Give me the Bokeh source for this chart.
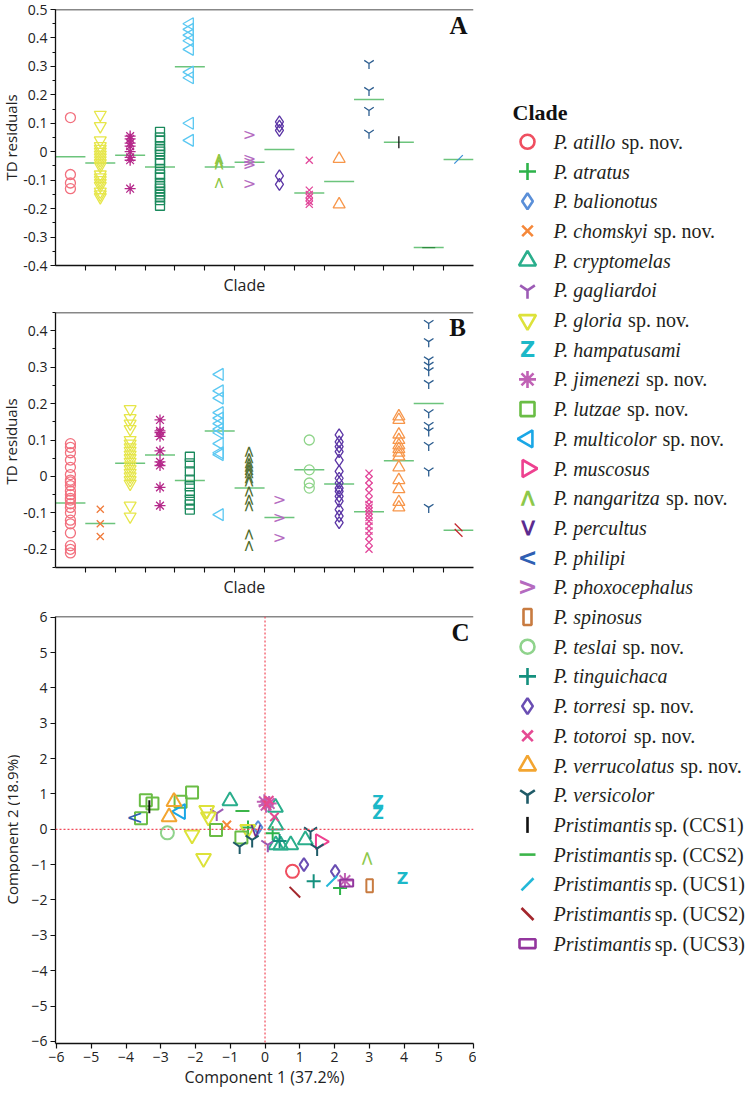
import math
from bokeh.plotting import figure
from bokeh.layouts import row, column
from bokeh.models import (Range1d, Span, Label, Title, SingleIntervalTicker, FixedTicker,
                          NumeralTickFormatter)
from bokeh.core.properties import value
from bokeh.embed import file_html
from bokeh.resources import INLINE

# ---------------- Panel A : TD residuals ----------------
a_categories = ["P. atillo", "P. gloria", "P. jimenezi", "P. lutzae", "P. multicolor",
                "P. nangaritza", "P. phoxocephalus", "P. torresi", "P. totoroi",
                "P. verrucolatus", "P. versicolor", "Pristimantis sp. (CCS1)",
                "Pristimantis sp. (CCS2)", "Pristimantis sp. (UCS1)"]
a_means = [-0.018, -0.040, -0.012, -0.054, 0.299, -0.054, -0.037, 0.008,
           -0.145, -0.105, 0.184, 0.033, -0.337, -0.027]
a_atillo = [0.12, -0.08, -0.11, -0.13]
a_gloria = [0.13, 0.09, 0.04, 0.02, 0.01, 0.0, -0.01, -0.02, -0.03, -0.04, -0.05,
            -0.08, -0.09, -0.10, -0.11, -0.12, -0.14, -0.15, -0.16]
a_jimenezi = [0.055, 0.045, 0.03, 0.02, 0.0, -0.02, -0.03, -0.13]
a_lutzae = [0.07, 0.05, 0.04, 0.02, 0.01, 0.0, -0.01, -0.03, -0.04, -0.06, -0.08,
            -0.09, -0.11, -0.12, -0.13, -0.14, -0.15, -0.16, -0.17, -0.19]
a_multicolor = [0.45, 0.43, 0.41, 0.39, 0.36, 0.28, 0.26, 0.10, 0.04]
a_nangaritza = [-0.025, -0.035, -0.045, -0.11]
a_phoxocephalus = [0.06, -0.025, -0.035, -0.045, -0.11]
a_torresi = [0.105, 0.09, 0.075, -0.085, -0.115]
a_totoroi = [-0.03, -0.135, -0.15, -0.16, -0.175, -0.185]
a_verrucolatus = [-0.025, -0.185]
a_versicolor = [0.31, 0.215, 0.145, 0.065]
a_ccs1 = [0.033]
a_ccs2 = [-0.337]
a_ucs1 = [-0.027]
a_values = [a_atillo, a_gloria, a_jimenezi, a_lutzae, a_multicolor, a_nangaritza,
            a_phoxocephalus, a_torresi, a_totoroi, a_verrucolatus, a_versicolor,
            a_ccs1, a_ccs2, a_ucs1]

# ---------------- Panel B : TD residuals ----------------
b_categories = ["P. atillo", "P. chomskyi", "P. gloria", "P. jimenezi", "P. lutzae",
                "P. multicolor", "P. nangaritza", "P. phoxocephalus", "P. teslai",
                "P. torresi", "P. totoroi", "P. verrucolatus", "P. versicolor",
                "Pristimantis sp. (UCS2)"]
b_means = [-0.073, -0.129, 0.036, 0.059, -0.011, 0.125, -0.032, -0.113, 0.018,
           -0.021, -0.097, 0.043, 0.200, -0.148]
b_atillo = [0.09, 0.08, 0.065, 0.045, 0.025, 0.005, -0.01, -0.015, -0.025, -0.04, -0.05,
            -0.06, -0.065, -0.075, -0.085, -0.10, -0.12, -0.13, -0.155, -0.19, -0.20, -0.21]
b_chomskyi = [-0.09, -0.13, -0.165]
b_gloria = [0.185, 0.16, 0.145, 0.13, 0.10, 0.09, 0.08, 0.07, 0.06, 0.05, 0.04, 0.03,
            0.02, 0.01, 0.0, -0.01, -0.02, -0.08, -0.11]
b_jimenezi = [0.155, 0.125, 0.12, 0.11, 0.07, 0.04, 0.03, -0.03, -0.08]
b_lutzae = [0.054, 0.036, 0.014, -0.009, -0.027, -0.045, -0.064, -0.077, -0.091]
b_multicolor = [0.28, 0.235, 0.215, 0.175, 0.16, 0.145, 0.13, 0.12, 0.09, 0.065, 0.06, -0.105]
b_nangaritza = [0.068, 0.05, 0.036, 0.027, 0.018, 0.009, -0.005, -0.014, -0.041,
                -0.064, -0.082, -0.159, -0.191]
b_phoxocephalus = [-0.064, -0.113, -0.168]
b_teslai = [0.10, 0.018, -0.018, -0.032]
b_torresi = [0.114, 0.095, 0.082, 0.068, 0.045, 0.014, -0.005, -0.018, -0.032, -0.041,
             -0.055, -0.068, -0.091, -0.109, -0.127]
b_totoroi = [0.009, -0.009, -0.027, -0.045, -0.064, -0.077, -0.086, -0.095, -0.104,
             -0.113, -0.123, -0.136, -0.15, -0.163, -0.181, -0.2]
b_verrucolatus = [0.165, 0.155, 0.115, 0.10, 0.085, 0.075, 0.065, 0.055, 0.025, -0.01,
                  -0.035, -0.07, -0.085]
b_versicolor = [0.42, 0.37, 0.32, 0.305, 0.29, 0.255, 0.175, 0.14, 0.125, 0.085, 0.015, -0.085]
b_ucs2 = [-0.14, -0.155]
b_values = [b_atillo, b_chomskyi, b_gloria, b_jimenezi, b_lutzae, b_multicolor,
            b_nangaritza, b_phoxocephalus, b_teslai, b_torresi, b_totoroi,
            b_verrucolatus, b_versicolor, b_ucs2]

# ---------------- Panel C : PCA ----------------
c_clade = ["P. atillo",
           "P. atratus", "P. atratus", "P. atratus",
           "P. balionotus",
           "P. chomskyi",
           "P. cryptomelas", "P. cryptomelas", "P. cryptomelas", "P. cryptomelas",
           "P. cryptomelas", "P. cryptomelas", "P. cryptomelas",
           "P. gagliardoi", "P. gagliardoi",
           "P. gloria", "P. gloria", "P. gloria", "P. gloria", "P. gloria",
           "P. hampatusami", "P. hampatusami", "P. hampatusami",
           "P. jimenezi", "P. jimenezi", "P. jimenezi", "P. jimenezi",
           "P. lutzae", "P. lutzae", "P. lutzae", "P. lutzae", "P. lutzae", "P. lutzae", "P. lutzae",
           "P. multicolor",
           "P. muscosus",
           "P. nangaritza",
           "P. percultus",
           "P. philipi",
           "P. spinosus",
           "P. teslai",
           "P. tinguichaca", "P. tinguichaca",
           "P. torresi", "P. torresi",
           "P. totoroi", "P. totoroi", "P. totoroi",
           "P. verrucolatus", "P. verrucolatus",
           "P. versicolor", "P. versicolor", "P. versicolor", "P. versicolor",
           "Pristimantis sp. (CCS1)",
           "Pristimantis sp. (CCS2)",
           "Pristimantis sp. (UCS1)",
           "Pristimantis sp. (UCS2)",
           "Pristimantis sp. (UCS3)"]
c_pc1 = [0.79,
         -0.49, 0.22, 2.16,
         -0.20,
         -1.10,
         -1.01, 0.30, 0.31, 0.31, 0.74, 1.16, 0.45,
         -1.39, 0.08,
         -1.68, -1.63, -2.10, -1.77, -0.50,
         3.25, 3.25, 3.96,
         -0.02, 0.12, 0.03, 2.30,
         -3.43, -3.24, -3.57, -2.10, -2.43, -1.41, -0.68,
         -2.43,
         1.59,
         2.95,
         -0.30,
         -3.75,
         3.01,
         -2.81,
         1.40, 0.42,
         1.12, 2.02,
         0.12, 0.27, 0.05,
         -2.62, -2.76,
         -0.73, -0.37, 1.31, 1.50,
         -3.33,
         -0.65,
         1.92,
         0.86,
         2.35]
c_pc2 = [-1.19,
         0.05, -0.11, -1.66,
         0.05,
         0.12,
         0.80, 0.62, 0.12, -0.44, -0.44, -0.30, -0.45,
         0.45, -0.44,
         0.54, 0.35, -0.16, -0.82, 0.00,
         0.78, 0.45, -1.38,
         0.78, 0.73, 0.68, -1.45,
         0.82, 0.73, 0.31, 1.04, 0.78, -0.02, -0.23,
         0.50,
         -0.35,
         -0.82,
         -0.05,
         0.35,
         -1.60,
         -0.10,
         -1.47, -0.33,
         -1.00, -1.19,
         0.82, 0.35, 0.70,
         0.78, 0.35,
         -0.49, -0.30, -0.07, -0.54,
         0.64,
         0.52,
         -1.47,
         -1.78,
         -1.52]

# ---------------- Legend ----------------
legend_keys = ["P. atillo", "P. atratus", "P. balionotus", "P. chomskyi", "P. cryptomelas",
               "P. gagliardoi", "P. gloria", "P. hampatusami", "P. jimenezi", "P. lutzae",
               "P. multicolor", "P. muscosus", "P. nangaritza", "P. percultus", "P. philipi",
               "P. phoxocephalus", "P. spinosus", "P. teslai", "P. tinguichaca", "P. torresi",
               "P. totoroi", "P. verrucolatus", "P. versicolor", "Pristimantis sp. (CCS1)",
               "Pristimantis sp. (CCS2)", "Pristimantis sp. (UCS1)", "Pristimantis sp. (UCS2)",
               "Pristimantis sp. (UCS3)"]
legend_italic = ["P. atillo", "P. atratus", "P. balionotus", "P. chomskyi", "P. cryptomelas",
                 "P. gagliardoi", "P. gloria", "P. hampatusami", "P. jimenezi", "P. lutzae",
                 "P. multicolor", "P. muscosus", "P. nangaritza", "P. percultus", "P. philipi",
                 "P. phoxocephalus", "P. spinosus", "P. teslai", "P. tinguichaca", "P. torresi",
                 "P. totoroi", "P. verrucolatus", "P. versicolor", "Pristimantis",
                 "Pristimantis", "Pristimantis", "Pristimantis", "Pristimantis"]
legend_regular = ["sp. nov.", "", "", "sp. nov.", "", "", "sp. nov.", "", "sp. nov.",
                  "sp. nov.", "sp. nov.", "", "sp. nov.", "", "", "", "", "sp. nov.", "",
                  "sp. nov.", "sp. nov.", "sp. nov.", "", "sp. (CCS1)", "sp. (CCS2)",
                  "sp. (UCS1)", "sp. (UCS2)", "sp. (UCS3)"]

# ---------------- styles ----------------
C_STYLE = {
    "P. atillo": ("circle", "#ef4f60"), "P. atratus": ("cross", "#2db34a"),
    "P. balionotus": ("diamond", "#5a8fd8"), "P. chomskyi": ("x", "#f5883a"),
    "P. cryptomelas": ("triangle", "#2aae8c"), "P. gagliardoi": ("y", "#9c5bb5"),
    "P. gloria": ("inverted_triangle", "#dde23a"), "P. hampatusami": ("zed", "#1cb8c8"),
    "P. jimenezi": ("asterisk", "#c062b5"), "P. lutzae": ("square", "#6abd45"),
    "P. multicolor": ("tri_left", "#1aa7e6"), "P. muscosus": ("tri_right", "#ee4190"),
    "P. nangaritza": ("chev_up", "#8dc84a"), "P. percultus": ("chev_down", "#5b2b8f"),
    "P. philipi": ("chev_left", "#2f5fb3"), "P. phoxocephalus": ("chev_right", "#b46bbf"),
    "P. spinosus": ("rect_tall", "#c87b40"), "P. teslai": ("circle", "#8fd38c"),
    "P. tinguichaca": ("cross", "#14907e"), "P. torresi": ("diamond", "#6a4eb3"),
    "P. totoroi": ("x", "#e54a93"), "P. verrucolatus": ("triangle", "#f3a530"),
    "P. versicolor": ("y", "#1f5b68"), "Pristimantis sp. (CCS1)": ("dash_v", "#111111"),
    "Pristimantis sp. (CCS2)": ("dash_h", "#3cb54a"), "Pristimantis sp. (UCS1)": ("dash_f", "#23b8d8"),
    "Pristimantis sp. (UCS2)": ("dash_b", "#a3262c"), "Pristimantis sp. (UCS3)": ("rect_wide", "#93369e"),
}
A_STYLE = {
    "P. atillo": ("circle", "#f2707e"), "P. gloria": ("inverted_triangle", "#e6e64a"),
    "P. jimenezi": ("asterisk", "#b5288a"), "P. lutzae": ("square", "#1b8a5d"),
    "P. multicolor": ("tri_left", "#5bc8f2"), "P. nangaritza": ("chev_up", "#8bc53f"),
    "P. phoxocephalus": ("chev_right", "#b56cc1"), "P. torresi": ("diamond", "#5b35a5"),
    "P. totoroi": ("x", "#e2479a"), "P. verrucolatus": ("triangle", "#f7964a"),
    "P. versicolor": ("y", "#2c5d8f"), "Pristimantis sp. (CCS1)": ("dash_v", "#111111"),
    "Pristimantis sp. (CCS2)": ("dash_h", "#2d8b3e"), "Pristimantis sp. (UCS1)": ("dash_f", "#3b8fd6"),
}
B_STYLE = dict(A_STYLE)
B_STYLE.update({
    "P. chomskyi": ("x", "#f07a3a"), "P. nangaritza": ("chev_up", "#4e6b2c"),
    "P. teslai": ("circle", "#8fd48a"), "Pristimantis sp. (UCS2)": ("dash_b", "#c4262e"),
})

SCATTER = {"circle": ("circle", 0), "cross": ("cross", 0), "diamond": ("diamond", 0),
           "x": ("x", 0), "triangle": ("triangle", 0), "y": ("y", 0),
           "inverted_triangle": ("inverted_triangle", 0), "asterisk": ("asterisk", 0),
           "square": ("square", 0), "tri_left": ("triangle", math.pi / 2),
           "tri_right": ("triangle", -math.pi / 2), "dash_v": ("dash", math.pi / 2),
           "dash_h": ("dash", 0), "dash_f": ("dash", math.pi / 4), "dash_b": ("dash", -math.pi / 4)}
TEXTM = {"chev_up": ("<", -math.pi / 2), "chev_down": ("<", math.pi / 2),
         "chev_left": ("<", 0), "chev_right": (">", 0), "zed": ("Z", 0)}

SIZE_AB = {"circle": 10, "inverted_triangle": 12, "asterisk": 11, "square": 9, "tri_left": 12,
           "chev_up": 16, "chev_right": 16, "diamond": 12, "x": 10, "triangle": 12, "y": 11,
           "dash_v": 12, "dash_h": 13, "dash_f": 12, "dash_b": 11}
SIZE_C = {"circle": 13, "cross": 14, "diamond": 13, "x": 12, "triangle": 15, "y": 15,
          "inverted_triangle": 15, "zed": 16, "asterisk": 15, "square": 12, "tri_left": 15,
          "tri_right": 15, "chev_up": 20, "chev_down": 20, "chev_left": 20, "chev_right": 20,
          "rect_tall": 13, "dash_v": 13, "dash_h": 14, "dash_f": 15, "dash_b": 15, "rect_wide": 13}
SIZE_L = {"circle": 14, "cross": 17, "diamond": 16, "x": 15, "triangle": 17, "y": 17,
          "inverted_triangle": 17, "zed": 21, "asterisk": 17, "square": 14, "tri_left": 17,
          "tri_right": 17, "chev_up": 24, "chev_down": 24, "chev_left": 24, "chev_right": 24,
          "rect_tall": 16, "dash_v": 16, "dash_h": 16, "dash_f": 17, "dash_b": 17, "rect_wide": 16}

SANS = "Open Sans"
SERIF = "Liberation Serif"
INK = "#222222"
TOTAL_H = 1093


def draw(p, xs, ys, kind, color, size, lw, bold=False):
    n = len(xs)
    if kind in SCATTER:
        m, ang = SCATTER[kind]
        p.scatter(x=xs, y=ys, marker=m, size=size, angle=ang, line_color=color,
                  fill_color=None, line_width=lw)
    elif kind in TEXTM:
        ch, ang = TEXTM[kind]
        p.text(x=xs, y=ys, text=[ch] * n, angle=ang, text_color=color,
               text_font=value("DejaVu Sans"),
               text_font_style="bold" if (bold or kind == "zed") else "normal",
               text_font_size=f"{size}px", text_align="center", text_baseline="middle")
    elif kind == "rect_tall":
        p.rect(x=xs, y=ys, width=size * 0.5, height=size, width_units="screen",
               height_units="screen", fill_color=None, line_color=color, line_width=lw)
    elif kind == "rect_wide":
        p.rect(x=xs, y=ys, width=size, height=size * 0.55, width_units="screen",
               height_units="screen", fill_color=None, line_color=color, line_width=lw)


def style_axes(p):
    for ax in p.axis:
        ax.axis_line_color = "#111111"
        ax.axis_line_width = 1.3
        ax.major_tick_line_color = "#111111"
        ax.major_tick_line_width = 1.2
        ax.minor_tick_line_color = "#111111"
        ax.minor_tick_line_width = 1.1
        ax.major_tick_in = 0
        ax.major_tick_out = 5
        ax.minor_tick_in = 0
        ax.minor_tick_out = 3
        ax.major_label_text_font = SANS
        ax.major_label_text_font_size = "14px"
        ax.major_label_text_color = INK
        ax.major_label_standoff = 3
        ax.axis_label_text_font = SANS
        ax.axis_label_text_font_size = "16px"
        ax.axis_label_text_font_style = "normal"
        ax.axis_label_text_color = INK
        ax.axis_label_standoff = 1


def make_fig(h, xr, yr, bl, br, bt, bb):
    p = figure(width=456, height=h, x_range=xr, y_range=yr, toolbar_location=None,
               output_backend="svg", min_border_left=bl, min_border_right=br,
               min_border_top=bt, min_border_bottom=bb)
    p.grid.visible = False
    p.outline_line_color = None
    style_axes(p)
    return p


def strip_panel(p, cats, vals, means, styles, letter, letter_xy):
    xs_mean = [i + 0.5 for i in range(len(cats))]
    p.scatter(x=xs_mean, y=means, marker="dash", size=30, line_color="#6cc47c", line_width=1.5)
    for i, (cat, vs) in enumerate(zip(cats, vals)):
        kind, color = styles[cat]
        draw(p, [i + 0.5] * len(vs), vs, kind, color, SIZE_AB[kind], 1.3)
    p.xaxis.ticker = FixedTicker(ticks=[], minor_ticks=list(range(1, len(cats))))
    p.xaxis.minor_tick_out = 5
    p.yaxis.ticker = SingleIntervalTicker(interval=0.1, num_minor_ticks=2)
    p.yaxis.formatter = NumeralTickFormatter(format="0.[0]")
    p.add_layout(Span(location=p.y_range.end, dimension="width", line_color="#111111", line_width=1.5))
    # "Clade" sits left of the frame centre in the original (left edge ~168 px into the frame)
    p.add_layout(Title(text="Clade", align="left", offset=168, standoff=2,
                       text_font=SANS, text_font_size="16px", text_font_style="normal",
                       text_color=INK), "below")
    p.add_layout(Label(x=letter_xy[0], y=letter_xy[1], text=letter, text_align="center",
                       text_baseline="middle", text_font=SERIF, text_font_style="bold",
                       text_font_size="25px", text_color="#111111"))


# ---- Panel A ----
pA = make_fig(296, Range1d(0, 14), Range1d(-0.4, 0.5), 33, 3, 9, 30)
strip_panel(pA, a_categories, a_values, a_means, A_STYLE, "A", (13.5, 0.444))

# ---- Panel B ----
pB = make_fig(302, Range1d(0, 14), Range1d(-0.25, 0.45), 33, 3, 16, 28)
strip_panel(pB, b_categories, b_values, b_means, B_STYLE, "B", (13.47, 0.409))

# ---- Panel C ----
pC = make_fig(TOTAL_H - 296 - 302, Range1d(-6.03, 6.0), Range1d(-6.06, 6.02), 30, 3, 18, 50)
pC.xaxis.ticker = SingleIntervalTicker(interval=1, num_minor_ticks=0)
pC.yaxis.ticker = SingleIntervalTicker(interval=1, num_minor_ticks=0)
pC.xaxis.axis_label = "Component 1 (37.2%)"
pC.add_layout(Span(location=6.02, dimension="width", line_color="#111111", line_width=1.5))
pC.add_layout(Span(location=0, dimension="height", line_color="#f04a5a", line_dash="2 2", line_width=1.2))
pC.add_layout(Span(location=0, dimension="width", line_color="#f04a5a", line_dash="2 2", line_width=1.2))
for key in legend_keys:
    idx = [i for i, c in enumerate(c_clade) if c == key]
    if not idx:
        continue
    kind, color = C_STYLE[key]
    draw(pC, [c_pc1[i] for i in idx], [c_pc2[i] for i in idx], kind, color, SIZE_C[kind], 2.0)
pC.add_layout(Label(x=5.63, y=5.57, text="C", text_align="center", text_baseline="middle",
                    text_font=SERIF, text_font_style="bold", text_font_size="25px",
                    text_color="#111111"))

# ---- left strip holding the rotated y-axis titles ----
pS = figure(width=20, height=TOTAL_H, x_range=Range1d(0, 20), y_range=Range1d(TOTAL_H, 0),
            toolbar_location=None, output_backend="svg", x_axis_type=None, y_axis_type=None,
            min_border=0)
pS.grid.visible = False
pS.outline_line_color = None
pS.text(x=[10, 10, 11], y=[137, 441, 829],
        text=["TD residuals", "TD residuals", "Component 2 (18.9%)"], angle=math.pi / 2,
        text_align="center", text_baseline="middle", text_font=value(SANS),
        text_font_size="15px", text_color=INK)

# ---- Legend panel ----
TI = {' ': 250, '.': 250, 'P': 611, 'a': 500, 'b': 500, 'c': 444, 'd': 500, 'e': 444,
      'f': 278, 'g': 500, 'h': 500, 'i': 278, 'j': 278, 'k': 444, 'l': 278, 'm': 722,
      'n': 500, 'o': 500, 'p': 500, 'q': 500, 'r': 389, 's': 389, 't': 278, 'u': 500,
      'v': 444, 'w': 667, 'x': 444, 'y': 444, 'z': 389}
LFS = 20
pL = figure(width=280, height=TOTAL_H, x_range=Range1d(0, 280), y_range=Range1d(TOTAL_H, 0),
            toolbar_location=None, output_backend="svg", x_axis_type=None, y_axis_type=None,
            min_border=0)
pL.grid.visible = False
pL.outline_line_color = None
row_y = [141.3 + 29.7 * i for i in range(len(legend_keys))]
mark_x = 51
text_x = 77
for key, yy in zip(legend_keys, row_y):
    kind, color = C_STYLE[key]
    draw(pL, [mark_x], [yy], kind, color, SIZE_L[kind], 2.6, bold=True)
pL.text(x=[text_x] * len(legend_italic), y=row_y, text=legend_italic,
        text_font=value(SERIF), text_font_style="italic", text_font_size=f"{LFS}px",
        text_baseline="middle", text_align="left", text_color="#231f20")
reg = [(text_x + (sum(TI.get(ch, 500) for ch in s) + 250) * LFS / 1000.0 - 1.5, yy, r)
       for s, r, yy in zip(legend_italic, legend_regular, row_y) if r]
pL.text(x=[t[0] for t in reg], y=[t[1] for t in reg], text=[t[2] for t in reg],
        text_font=value(SERIF), text_font_style="normal", text_font_size=f"{LFS}px",
        text_baseline="middle", text_align="left", text_color="#231f20")
pL.text(x=[36], y=[112], text=["Clade"], text_font=value(SERIF), text_font_style="bold",
        text_font_size="22px", text_baseline="middle", text_align="left", text_color="#111111")

layout = row(pS, column(pA, pB, pC), pL)
open("out.html", "w").write(file_html(layout, INLINE))
